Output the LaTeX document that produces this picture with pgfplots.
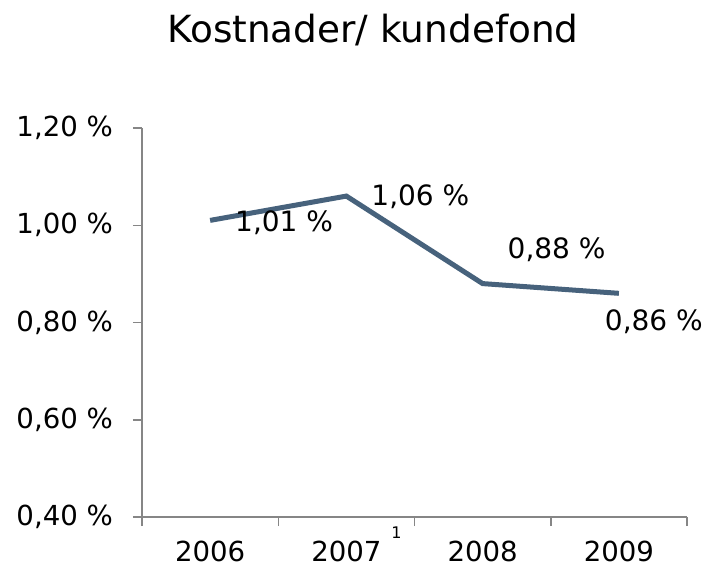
\documentclass[border=0pt]{standalone}
\usepackage{pgfplots}
\pgfplotsset{compat=1.18}
\usepackage{fontspec}
\setmainfont{DejaVu Sans}

\definecolor{linecol}{RGB}{71,98,124}
\definecolor{axiscol}{RGB}{134,134,134}

\begin{document}
\begin{tikzpicture}
  \begin{axis}[
      scale only axis,
      width=272.5pt, height=194.5pt,
      xmin=0.5, xmax=4.5,
      ymin=0.40, ymax=1.20,
      axis lines*=left,
      axis line style={axiscol, line width=0.75pt},
      every tick/.style={axiscol, line width=0.75pt},
      tick align=outside,
      major tick length=4.5pt,
      xtick={0.5,1.5,2.5,3.5,4.5},
      xticklabels={},
      extra x ticks={1,2,3,4},
      extra x tick labels={2006,2007\rlap{\smash{\hspace{5pt}\raisebox{1.5ex}{\fontsize{8}{9}\selectfont 1}}},2008,2009},
      extra x tick style={major tick length=0pt, xticklabel style={yshift=-8.5pt}},
      ytick={0.40,0.60,0.80,1.00,1.20},
      yticklabel={\pgfmathprintnumber[fixed, fixed zerofill, precision=2, use comma]{\tick}~\%},
      /pgf/number format/assume math mode=true,
      tick label style={font=\fontsize{13.8}{16}\selectfont, text=black},
      yticklabel style={xshift=-6.5pt},
      clip=false,
      point meta=y,
      visualization depends on={value \thisrow{dx} \as \dx},
      visualization depends on={value \thisrow{dy} \as \dy},
      nodes near coords={\pgfmathprintnumber[fixed, fixed zerofill, precision=2, use comma]{\pgfplotspointmeta}~\%},
      nodes near coords style={anchor=center, xshift=\dx pt, yshift=\dy pt,
        font=\fontsize{14}{16}\selectfont, text=black},
    ]
    \addplot[linecol, line width=2.5pt, mark=none] table {
      x y dx dy
      1 1.01 37 -1
      2 1.06 37 -0.5
      3 0.88 37 17
      4 0.86 17.5 -14
    };
  \end{axis}
  % title and canvas size (1px = 0.5pt)
  \node[font=\fontsize{18.7}{21}\selectfont] at ([shift={(115.5pt,243.5pt)}]current axis.south west) {Kostnader/ kundefond};
  \path ([shift={(-71pt,-30pt)}]current axis.south west) rectangle ++(355pt,288.5pt);
\end{tikzpicture}
\end{document}
